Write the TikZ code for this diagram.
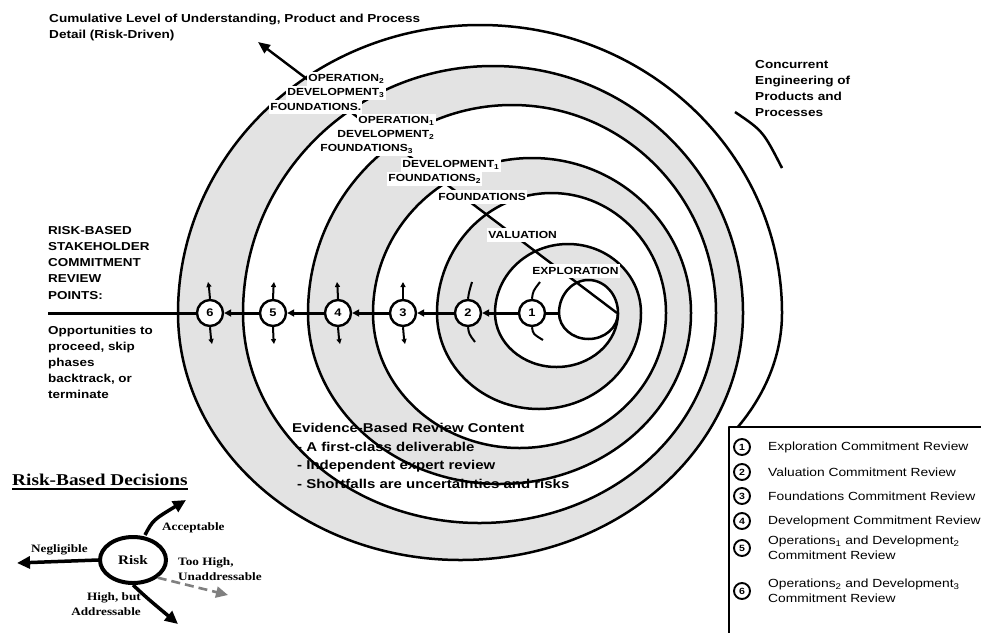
\documentclass[tikz,border=0pt]{standalone}
\usepackage{fontspec}
\setmainfont{Liberation Serif}
\newfontfamily\sfb{Liberation Sans}[FakeStretch=1.17]
\newfontfamily\rmb{Liberation Serif}[FakeStretch=1.17]
\usetikzlibrary{arrows.meta,shapes.geometric}
\definecolor{bandgray}{gray}{0.89}
\definecolor{toohigh}{gray}{0.5}
\begin{document}
\begin{tikzpicture}[x=1pt,y=-1pt,line join=round,
  spiral/.style={line width=2.5pt},
  band/.style={fill=bandgray},
  lbl/.style={font=\sfb\bfseries\fontsize{10.3}{12}\selectfont, fill=white, inner sep=1.2pt, anchor=west, minimum height=14.5pt},
  rev/.style={circle, draw, line width=2.4pt, fill=white, minimum size=26pt, inner sep=0pt, font=\sfb\bfseries\fontsize{11}{12}\selectfont},
  axisline/.style={line width=3pt},
  tipA/.style={-{Triangle[length=7pt,width=7pt]}},
  tick/.style={line width=2pt},
  tickA/.style={line width=2pt,-{Triangle[length=5pt,width=5pt]}},
  hdr/.style={font=\sfb\bfseries\fontsize{11.6}{16}\selectfont, inner sep=0pt, anchor=north west, align=left},
  legc/.style={circle, draw, line width=1.9pt, minimum size=16pt, inner sep=0pt, font=\sfb\bfseries\fontsize{9}{9}\selectfont},
  legt/.style={font=\sfb\fontsize{11.8}{14.5}\selectfont, anchor=west, align=left, inner sep=0pt},
  rlab/.style={font=\rmb\bfseries\fontsize{11.3}{15}\selectfont, inner sep=0pt},
  bigarrow/.style={line width=3.5pt, -{Triangle[length=13pt,width=12pt]}}
]
\useasboundingbox (0,0) rectangle (981,632);
\fill[white] (0,0) rectangle (981,632);

% ---------- gray bands ----------
\begin{scope}
  \clip (617,313) -- (-460,-500) -- (1500,-500) -- (1500,313) -- cycle;
  \fill[band] (559,313) arc[start angle=180,end angle=360,x radius=29.5,y radius=33] -- (641,313) arc[start angle=0,end angle=-180,x radius=73,y radius=69] -- cycle;
  \fill[band] (437,313) arc[start angle=180,end angle=360,x radius=114.5,y radius=120] -- (691,313) arc[start angle=0,end angle=-180,x radius=159,y radius=155] -- cycle;
  \fill[band] (308,313) arc[start angle=180,end angle=360,x radius=204,y radius=208] -- (743,313) arc[start angle=0,end angle=-180,x radius=250,y radius=247] -- cycle;
\end{scope}
\begin{scope}
  \clip (617,313) -- (-460,-500) -- (-600,-500) -- (-600,313) -- cycle;
  \fill[band] (495,313) arc[start angle=180,end angle=360,x radius=73,y radius=69] -- (666,313) arc[start angle=0,end angle=-180,x radius=114.5,y radius=120] -- cycle;
  \fill[band] (373,313) arc[start angle=180,end angle=360,x radius=159,y radius=155] -- (716,313) arc[start angle=0,end angle=-180,x radius=204,y radius=208] -- cycle;
  \fill[band] (243,313) arc[start angle=180,end angle=360,x radius=250,y radius=247] -- (782,313) arc[start angle=0,end angle=-180,x radius=302,y radius=288] -- cycle;
\end{scope}
\fill[band] (618,313) arc[start angle=0,end angle=180,x radius=61.5,y radius=54] -- (437,313) arc[start angle=180,end angle=0,x radius=102,y radius=96] -- cycle;
\fill[band] (666,313) arc[start angle=0,end angle=180,x radius=146.5,y radius=135] -- (308,313) arc[start angle=180,end angle=0,x radius=191.5,y radius=171] -- cycle;
\fill[band] (716,313) arc[start angle=0,end angle=180,x radius=236.5,y radius=210] -- (178,313) arc[start angle=180,end angle=0,x radius=282.5,y radius=247] -- cycle;

% ---------- evidence text ----------
\node[font=\sfb\bfseries\fontsize{12.8}{18.5}\selectfont, anchor=north west, inner sep=0pt, align=left] (evid) at (292,423.5)
  {Evidence-Based Review Content\\\hspace*{5pt}- A first-class deliverable\\\hspace*{5pt}- Independent expert review\\\hspace*{5pt}- Shortfalls are uncertainties and risks};

% ---------- spiral ----------
\draw[spiral] (559,313) arc[start angle=180,end angle=360,x radius=29.5,y radius=33]
  arc[start angle=0,end angle=180,x radius=29.5,y radius=26];
\draw[spiral] (618,313)
  arc[start angle=0,end angle=180,x radius=61.5,y radius=54]
  arc[start angle=180,end angle=360,x radius=73,y radius=69]
  arc[start angle=0,end angle=180,x radius=102,y radius=96]
  arc[start angle=180,end angle=360,x radius=114.5,y radius=120]
  arc[start angle=0,end angle=180,x radius=146.5,y radius=135]
  arc[start angle=180,end angle=360,x radius=159,y radius=155]
  arc[start angle=0,end angle=180,x radius=191.5,y radius=171]
  arc[start angle=180,end angle=360,x radius=204,y radius=208]
  arc[start angle=0,end angle=180,x radius=236.5,y radius=210]
  arc[start angle=180,end angle=360,x radius=250,y radius=247]
  arc[start angle=0,end angle=180,x radius=282.5,y radius=247]
  arc[start angle=180,end angle=360,x radius=302,y radius=288]
  arc[start angle=0,end angle=34,x radius=305,y radius=220];

% concurrent engineering arc
\coordinate (ca) at (735,112);
\coordinate (cb) at (782,168);
\draw[line width=2.5pt] (ca) .. controls (763,131) .. (cb);

% diagonal
\coordinate (dstart) at (617,313);
\coordinate (dend) at (258,42);
\draw[line width=2.4pt,-{Triangle[length=12pt,width=10pt]}] (dstart) -- (dend);

% ---------- phase labels ----------
\node[lbl] (op2) at (307,79) {OPERATION\textsubscript{2}};
\node[lbl] (dv3) at (286,93) {DEVELOPMENT\textsubscript{3}};
\node[lbl] (fd4) at (269,107) {FOUNDATIONS.};
\node[lbl] (op1) at (357,121) {OPERATION\textsubscript{1}};
\node[lbl] (dv2) at (336,135) {DEVELOPMENT\textsubscript{2}};
\node[lbl] (fd3) at (319,149) {FOUNDATIONS\textsubscript{3}};
\node[lbl] (dv1) at (401,165) {DEVELOPMENT\textsubscript{1}};
\node[lbl] (fd2) at (387,179) {FOUNDATIONS\textsubscript{2}};
\node[lbl] (fd1) at (437,197) {FOUNDATIONS};
\node[lbl] (val) at (487,235) {VALUATION};
\node[lbl] (exp) at (531,271) {EXPLORATION};

% ---------- review points ----------
\node[rev] (r1) at (532,313) {1};
\node[rev] (r2) at (468,313) {2};
\node[rev] (r3) at (403,313) {3};
\node[rev] (r4) at (338,313) {4};
\node[rev] (r5) at (273,313) {5};
\node[rev] (r6) at (210,313) {6};
\coordinate (loopL) at (559,313);
\coordinate (axend) at (48,313);
\draw[axisline] (loopL) -- (r1);
\draw[axisline,tipA] (r1) -- (r2);
\draw[axisline,tipA] (r2) -- (r3);
\draw[axisline,tipA] (r3) -- (r4);
\draw[axisline,tipA] (r4) -- (r5);
\draw[axisline,tipA] (r5) -- (r6);
\draw[axisline] (r6) -- (axend);

\draw[tick] (r1.north) .. controls (533,291) .. (540,282);
\draw[tick] (r1.south) .. controls (533,334) .. (543,340);
\draw[tick] (r2.north) .. controls (469,292) .. (472,282);
\draw[tick] (r2.south) .. controls (469,334) .. (475,342);
\draw[tickA] (r3.north) .. controls (403,292) .. (403,282);
\draw[tickA] (r3.south) .. controls (403,334) .. (405,344);
\draw[tickA] (r4.north) .. controls (338,292) .. (337,282);
\draw[tickA] (r4.south) .. controls (338,334) .. (340,344);
\draw[tickA] (r5.north) .. controls (273,292) .. (274,282);
\draw[tickA] (r5.south) .. controls (273,334) .. (274,344);
\draw[tickA] (r6.north) .. controls (210,292) .. (208,282);
\draw[tickA] (r6.south) .. controls (210,334) .. (212,344);

% ---------- texts ----------
\node[hdr] (title) at (49,13.5) {Cumulative Level of Understanding, Product and Process\\Detail (Risk-Driven)};
\node[hdr] (conc) at (755,60.5) {Concurrent\\Engineering of\\Products and\\Processes};
\node[hdr, font=\sfb\bfseries\fontsize{11.5}{16.2}\selectfont] (rbs) at (48,226) {RISK-BASED\\STAKEHOLDER\\COMMITMENT\\REVIEW\\POINTS:};
\node[hdr, font=\sfb\bfseries\fontsize{11.5}{16.2}\selectfont] (opp) at (48,325.5) {Opportunities to\\proceed, skip\\phases\\backtrack, or\\terminate};

% ---------- legend ----------
\draw[line width=2pt, fill=white] (729,427) rectangle (995,645);
\node[legc] (l1) at (742,447) {1};
\node[legc] (l2) at (742,472) {2};
\node[legc] (l3) at (742,496) {3};
\node[legc] (l4) at (742,521) {4};
\node[legc] (l5) at (742,548) {5};
\node[legc] (l6) at (742,591) {6};
\node[legt] (t1) at (768,447) {Exploration Commitment Review};
\node[legt] (t2) at (768,472) {Valuation Commitment Review};
\node[legt] (t3) at (768,496) {Foundations Commitment Review};
\node[legt] (t4) at (768,521) {Development Commitment Review};
\node[legt] (t5) at (768,548) {Operations\textsubscript{1} and Development\textsubscript{2}\\Commitment Review};
\node[legt] (t6) at (768,591) {Operations\textsubscript{2} and Development\textsubscript{3}\\Commitment Review};

% ---------- risk-based decisions ----------
\node[font=\rmb\bfseries\fontsize{16.5}{18}\selectfont, anchor=base west, inner sep=0pt] (rbd) at (12,485) {Risk-Based Decisions};
\draw[line width=1.3pt] ([yshift=-4pt]rbd.base west) -- ([yshift=-4pt]rbd.base east);
\node[ellipse, draw, line width=4pt, minimum width=66pt, minimum height=46pt, inner sep=0pt, font=\rmb\bfseries\fontsize{13}{14}\selectfont] (risk) at (133,560) {Risk};
\coordinate (negT) at (17,563);
\coordinate (accT) at (186,500);
\coordinate (hiT) at (178,624);
\coordinate (thT) at (228,595);
\draw[bigarrow] (risk.west) -- (negT);
\draw[bigarrow] (risk.north) ++(12,0) coordinate (accS) .. controls (153,520) .. (accT);
\draw[bigarrow] (risk.south) .. controls (147,598) .. (hiT);
\draw[line width=2.6pt, toohigh, dashed, dash pattern=on 9pt off 5pt, -{Triangle[length=12pt,width=11pt]}] (risk.south east) -- (thT);
\node[rlab, anchor=west] (negl) at (31,550) {Negligible};
\node[rlab, anchor=west] (accl) at (162,528) {Acceptable};
\node[rlab, anchor=west, align=left] (thl) at (178,569) {Too High,\\Unaddressable};
\node[rlab, anchor=east, align=right] (hil) at (141,604) {High, but\\Addressable};
\end{tikzpicture}
\end{document}
